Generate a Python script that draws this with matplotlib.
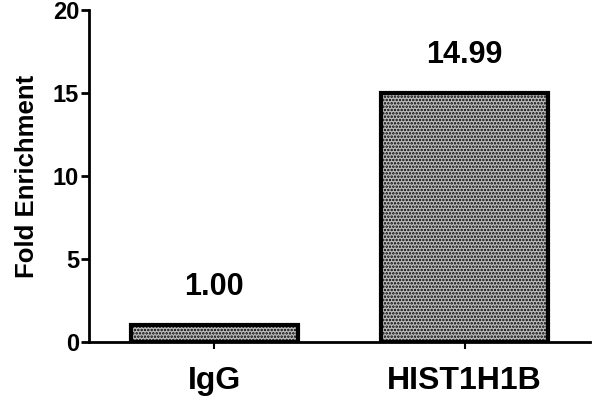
import matplotlib

matplotlib.use("Agg")

import matplotlib.pyplot as plt

categories = ["IgG", "HIST1H1B"]
values = [1.00, 14.99]
value_labels = ["1.00", "14.99"]
y_ticks = [0, 5, 10, 15, 20]

plt.rcParams["font.family"] = ["Liberation Sans", "DejaVu Sans"]
plt.rcParams["font.weight"] = "bold"
plt.rcParams["hatch.color"] = "#111111"
plt.rcParams["hatch.linewidth"] = 1.2

fig = plt.figure(figsize=(6, 4), dpi=100)
ax = fig.add_axes([0.148, 0.145, 0.835, 0.83])

xs = list(range(len(categories)))
ax.bar(xs, values, width=0.667, facecolor="#bcbcbc", edgecolor="black",
       linewidth=3, hatch=".....", zorder=2)

# 数值标注：柱顶上方留出一段空白
for x, v, lab in zip(xs, values, value_labels):
    ax.text(x, v + 1.4, lab, ha="center", va="bottom", fontsize=22, fontweight="bold")

ax.set_xlim(-0.5, 1.5)
ax.set_ylim(0, 20)
ax.set_yticks(y_ticks)
ax.set_xticks(xs)
ax.set_xticklabels(categories, fontsize=23, fontweight="bold")
ax.tick_params(axis="y", labelsize=17, width=2, length=6, direction="out", pad=1)
ax.tick_params(axis="x", width=1.5, length=5, direction="out", pad=12)
ax.set_ylabel("Fold Enrichment", fontsize=18.5, fontweight="bold", labelpad=10)

ax.spines["top"].set_visible(False)
ax.spines["right"].set_visible(False)
ax.spines["left"].set_linewidth(2)
ax.spines["bottom"].set_linewidth(2)

fig.savefig("out.png", dpi=100)
